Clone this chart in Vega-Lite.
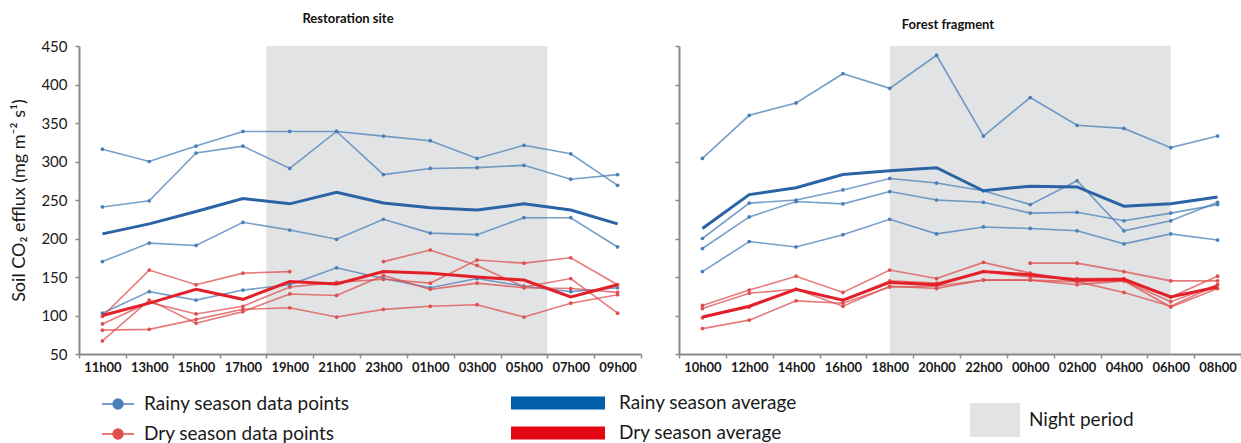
{
"$schema": "https://vega.github.io/schema/vega-lite/v6.json",
"padding": {"left": 10, "top": 13, "right": 0, "bottom": 0},
"background": "white",
"spacing": 32,
"config": {
 "font": "Lato",
 "view": {"stroke": null},
 "axis": {"grid": false, "domainColor": "#8a8a8a", "domainWidth": 2, "tickColor": "#8a8a8a", "tickWidth": 1.5, "tickSize": 4, "labelFont": "Lato", "labelColor": "#1a1a1a", "titleFont": "Lato", "titleColor": "#1a1a1a", "labelOverlap": false},
 "axisX": {"labelFontWeight": "bold", "labelFontSize": 13, "labelAngle": 0, "tickBand": "extent", "labelPadding": 3, "title": null},
 "axisY": {"labelFontSize": 15, "labelPadding": 8, "titleFontSize": 18, "titleFontWeight": "normal", "titlePadding": 12},
 "legend": {"labelLimit": 400},
 "title": {"font": "Lato", "fontSize": 13, "fontWeight": "bold", "color": "#111111"}
},
"datasets": {
 "night": [{"s":"R","a":"19h00","b":"05h00","p":"Night period"},{"s":"F","a":"18h00","b":"06h00","p":"Night period"}],
 "avg": [
  {"s":"R","g":"Rainy season average","t":"11h00","v":206},{"s":"R","g":"Rainy season average","t":"13h00","v":219},{"s":"R","g":"Rainy season average","t":"15h00","v":235},{"s":"R","g":"Rainy season average","t":"17h00","v":252},{"s":"R","g":"Rainy season average","t":"19h00","v":245},{"s":"R","g":"Rainy season average","t":"21h00","v":260},{"s":"R","g":"Rainy season average","t":"23h00","v":246},{"s":"R","g":"Rainy season average","t":"01h00","v":240},{"s":"R","g":"Rainy season average","t":"03h00","v":237},{"s":"R","g":"Rainy season average","t":"05h00","v":245},{"s":"R","g":"Rainy season average","t":"07h00","v":237},{"s":"R","g":"Rainy season average","t":"09h00","v":219},
  {"s":"R","g":"Dry season average","t":"11h00","v":100},{"s":"R","g":"Dry season average","t":"13h00","v":116},{"s":"R","g":"Dry season average","t":"15h00","v":134},{"s":"R","g":"Dry season average","t":"17h00","v":121},{"s":"R","g":"Dry season average","t":"19h00","v":144},{"s":"R","g":"Dry season average","t":"21h00","v":141},{"s":"R","g":"Dry season average","t":"23h00","v":157},{"s":"R","g":"Dry season average","t":"01h00","v":155},{"s":"R","g":"Dry season average","t":"03h00","v":150},{"s":"R","g":"Dry season average","t":"05h00","v":146},{"s":"R","g":"Dry season average","t":"07h00","v":124},{"s":"R","g":"Dry season average","t":"09h00","v":140},
  {"s":"F","g":"Rainy season average","t":"10h00","v":213},{"s":"F","g":"Rainy season average","t":"12h00","v":257},{"s":"F","g":"Rainy season average","t":"14h00","v":266},{"s":"F","g":"Rainy season average","t":"16h00","v":283},{"s":"F","g":"Rainy season average","t":"18h00","v":288},{"s":"F","g":"Rainy season average","t":"20h00","v":292},{"s":"F","g":"Rainy season average","t":"22h00","v":262},{"s":"F","g":"Rainy season average","t":"00h00","v":268},{"s":"F","g":"Rainy season average","t":"02h00","v":267},{"s":"F","g":"Rainy season average","t":"04h00","v":242},{"s":"F","g":"Rainy season average","t":"06h00","v":245},{"s":"F","g":"Rainy season average","t":"08h00","v":254},
  {"s":"F","g":"Dry season average","t":"10h00","v":98},{"s":"F","g":"Dry season average","t":"12h00","v":112},{"s":"F","g":"Dry season average","t":"14h00","v":134},{"s":"F","g":"Dry season average","t":"16h00","v":120},{"s":"F","g":"Dry season average","t":"18h00","v":143},{"s":"F","g":"Dry season average","t":"20h00","v":140},{"s":"F","g":"Dry season average","t":"22h00","v":157},{"s":"F","g":"Dry season average","t":"00h00","v":153},{"s":"F","g":"Dry season average","t":"02h00","v":146},{"s":"F","g":"Dry season average","t":"04h00","v":147},{"s":"F","g":"Dry season average","t":"06h00","v":124},{"s":"F","g":"Dry season average","t":"08h00","v":137}
 ],
 "pts": [
  {"s":"R","k":"Rainy","r":"R1","t":"11h00","v":316},{"s":"R","k":"Rainy","r":"R1","t":"13h00","v":300},{"s":"R","k":"Rainy","r":"R1","t":"15h00","v":320},{"s":"R","k":"Rainy","r":"R1","t":"17h00","v":339},{"s":"R","k":"Rainy","r":"R1","t":"19h00","v":339},{"s":"R","k":"Rainy","r":"R1","t":"21h00","v":339},{"s":"R","k":"Rainy","r":"R1","t":"23h00","v":333},{"s":"R","k":"Rainy","r":"R1","t":"01h00","v":327},{"s":"R","k":"Rainy","r":"R1","t":"03h00","v":304},{"s":"R","k":"Rainy","r":"R1","t":"05h00","v":321},{"s":"R","k":"Rainy","r":"R1","t":"07h00","v":310},{"s":"R","k":"Rainy","r":"R1","t":"09h00","v":269},
  {"s":"R","k":"Rainy","r":"R2","t":"11h00","v":241},{"s":"R","k":"Rainy","r":"R2","t":"13h00","v":249},{"s":"R","k":"Rainy","r":"R2","t":"15h00","v":311},{"s":"R","k":"Rainy","r":"R2","t":"17h00","v":320},{"s":"R","k":"Rainy","r":"R2","t":"19h00","v":291},{"s":"R","k":"Rainy","r":"R2","t":"21h00","v":339},{"s":"R","k":"Rainy","r":"R2","t":"23h00","v":283},{"s":"R","k":"Rainy","r":"R2","t":"01h00","v":291},{"s":"R","k":"Rainy","r":"R2","t":"03h00","v":292},{"s":"R","k":"Rainy","r":"R2","t":"05h00","v":295},{"s":"R","k":"Rainy","r":"R2","t":"07h00","v":277},{"s":"R","k":"Rainy","r":"R2","t":"09h00","v":283},
  {"s":"R","k":"Rainy","r":"R3","t":"11h00","v":170},{"s":"R","k":"Rainy","r":"R3","t":"13h00","v":194},{"s":"R","k":"Rainy","r":"R3","t":"15h00","v":191},{"s":"R","k":"Rainy","r":"R3","t":"17h00","v":221},{"s":"R","k":"Rainy","r":"R3","t":"19h00","v":211},{"s":"R","k":"Rainy","r":"R3","t":"21h00","v":199},{"s":"R","k":"Rainy","r":"R3","t":"23h00","v":225},{"s":"R","k":"Rainy","r":"R3","t":"01h00","v":207},{"s":"R","k":"Rainy","r":"R3","t":"03h00","v":205},{"s":"R","k":"Rainy","r":"R3","t":"05h00","v":227},{"s":"R","k":"Rainy","r":"R3","t":"07h00","v":227},{"s":"R","k":"Rainy","r":"R3","t":"09h00","v":189},
  {"s":"R","k":"Rainy","r":"R4","t":"11h00","v":103},{"s":"R","k":"Rainy","r":"R4","t":"13h00","v":131},{"s":"R","k":"Rainy","r":"R4","t":"15h00","v":120},{"s":"R","k":"Rainy","r":"R4","t":"17h00","v":133},{"s":"R","k":"Rainy","r":"R4","t":"19h00","v":140},{"s":"R","k":"Rainy","r":"R4","t":"21h00","v":162},{"s":"R","k":"Rainy","r":"R4","t":"23h00","v":148},{"s":"R","k":"Rainy","r":"R4","t":"01h00","v":136},{"s":"R","k":"Rainy","r":"R4","t":"03h00","v":148},{"s":"R","k":"Rainy","r":"R4","t":"05h00","v":138},{"s":"R","k":"Rainy","r":"R4","t":"07h00","v":131},{"s":"R","k":"Rainy","r":"R4","t":"09h00","v":136},
  {"s":"R","k":"Dry","r":"D1","t":"11h00","v":99},{"s":"R","k":"Dry","r":"D1","t":"13h00","v":159},{"s":"R","k":"Dry","r":"D1","t":"15h00","v":140},{"s":"R","k":"Dry","r":"D1","t":"17h00","v":155},{"s":"R","k":"Dry","r":"D1","t":"19h00","v":157},
  {"s":"R","k":"Dry","r":"D2","t":"23h00","v":170},{"s":"R","k":"Dry","r":"D2","t":"01h00","v":185},{"s":"R","k":"Dry","r":"D2","t":"03h00","v":165},{"s":"R","k":"Dry","r":"D2","t":"05h00","v":137},{"s":"R","k":"Dry","r":"D2","t":"07h00","v":148},{"s":"R","k":"Dry","r":"D2","t":"09h00","v":103},
  {"s":"R","k":"Dry","r":"D3","t":"11h00","v":89},{"s":"R","k":"Dry","r":"D3","t":"13h00","v":117},{"s":"R","k":"Dry","r":"D3","t":"15h00","v":102},{"s":"R","k":"Dry","r":"D3","t":"17h00","v":112},{"s":"R","k":"Dry","r":"D3","t":"19h00","v":137},{"s":"R","k":"Dry","r":"D3","t":"21h00","v":143},{"s":"R","k":"Dry","r":"D3","t":"23h00","v":147},{"s":"R","k":"Dry","r":"D3","t":"01h00","v":142},{"s":"R","k":"Dry","r":"D3","t":"03h00","v":172},{"s":"R","k":"Dry","r":"D3","t":"05h00","v":168},{"s":"R","k":"Dry","r":"D3","t":"07h00","v":175},{"s":"R","k":"Dry","r":"D3","t":"09h00","v":140},
  {"s":"R","k":"Dry","r":"D4","t":"11h00","v":81},{"s":"R","k":"Dry","r":"D4","t":"13h00","v":82},{"s":"R","k":"Dry","r":"D4","t":"15h00","v":95},{"s":"R","k":"Dry","r":"D4","t":"17h00","v":108},{"s":"R","k":"Dry","r":"D4","t":"19h00","v":110},{"s":"R","k":"Dry","r":"D4","t":"21h00","v":98},{"s":"R","k":"Dry","r":"D4","t":"23h00","v":108},{"s":"R","k":"Dry","r":"D4","t":"01h00","v":112},{"s":"R","k":"Dry","r":"D4","t":"03h00","v":114},{"s":"R","k":"Dry","r":"D4","t":"05h00","v":98},{"s":"R","k":"Dry","r":"D4","t":"07h00","v":116},{"s":"R","k":"Dry","r":"D4","t":"09h00","v":127},
  {"s":"R","k":"Dry","r":"D5","t":"11h00","v":67},{"s":"R","k":"Dry","r":"D5","t":"13h00","v":120},{"s":"R","k":"Dry","r":"D5","t":"15h00","v":90},{"s":"R","k":"Dry","r":"D5","t":"17h00","v":105},{"s":"R","k":"Dry","r":"D5","t":"19h00","v":128},{"s":"R","k":"Dry","r":"D5","t":"21h00","v":126},{"s":"R","k":"Dry","r":"D5","t":"23h00","v":152},{"s":"R","k":"Dry","r":"D5","t":"01h00","v":134},{"s":"R","k":"Dry","r":"D5","t":"03h00","v":142},{"s":"R","k":"Dry","r":"D5","t":"05h00","v":136},{"s":"R","k":"Dry","r":"D5","t":"07h00","v":135},{"s":"R","k":"Dry","r":"D5","t":"09h00","v":130},
  {"s":"F","k":"Rainy","r":"F1","t":"10h00","v":304},{"s":"F","k":"Rainy","r":"F1","t":"12h00","v":360},{"s":"F","k":"Rainy","r":"F1","t":"14h00","v":376},{"s":"F","k":"Rainy","r":"F1","t":"16h00","v":414},{"s":"F","k":"Rainy","r":"F1","t":"18h00","v":395},{"s":"F","k":"Rainy","r":"F1","t":"20h00","v":438},{"s":"F","k":"Rainy","r":"F1","t":"22h00","v":333},{"s":"F","k":"Rainy","r":"F1","t":"00h00","v":383},{"s":"F","k":"Rainy","r":"F1","t":"02h00","v":347},{"s":"F","k":"Rainy","r":"F1","t":"04h00","v":343},{"s":"F","k":"Rainy","r":"F1","t":"06h00","v":318},{"s":"F","k":"Rainy","r":"F1","t":"08h00","v":333},
  {"s":"F","k":"Rainy","r":"F2","t":"10h00","v":200},{"s":"F","k":"Rainy","r":"F2","t":"12h00","v":246},{"s":"F","k":"Rainy","r":"F2","t":"14h00","v":250},{"s":"F","k":"Rainy","r":"F2","t":"16h00","v":263},{"s":"F","k":"Rainy","r":"F2","t":"18h00","v":278},{"s":"F","k":"Rainy","r":"F2","t":"20h00","v":272},{"s":"F","k":"Rainy","r":"F2","t":"22h00","v":262},{"s":"F","k":"Rainy","r":"F2","t":"00h00","v":244},{"s":"F","k":"Rainy","r":"F2","t":"02h00","v":275},{"s":"F","k":"Rainy","r":"F2","t":"04h00","v":210},{"s":"F","k":"Rainy","r":"F2","t":"06h00","v":223},{"s":"F","k":"Rainy","r":"F2","t":"08h00","v":247},
  {"s":"F","k":"Rainy","r":"F3","t":"10h00","v":187},{"s":"F","k":"Rainy","r":"F3","t":"12h00","v":228},{"s":"F","k":"Rainy","r":"F3","t":"14h00","v":248},{"s":"F","k":"Rainy","r":"F3","t":"16h00","v":245},{"s":"F","k":"Rainy","r":"F3","t":"18h00","v":261},{"s":"F","k":"Rainy","r":"F3","t":"20h00","v":250},{"s":"F","k":"Rainy","r":"F3","t":"22h00","v":247},{"s":"F","k":"Rainy","r":"F3","t":"00h00","v":233},{"s":"F","k":"Rainy","r":"F3","t":"02h00","v":234},{"s":"F","k":"Rainy","r":"F3","t":"04h00","v":223},{"s":"F","k":"Rainy","r":"F3","t":"06h00","v":233},{"s":"F","k":"Rainy","r":"F3","t":"08h00","v":244},
  {"s":"F","k":"Rainy","r":"F4","t":"10h00","v":157},{"s":"F","k":"Rainy","r":"F4","t":"12h00","v":196},{"s":"F","k":"Rainy","r":"F4","t":"14h00","v":189},{"s":"F","k":"Rainy","r":"F4","t":"16h00","v":205},{"s":"F","k":"Rainy","r":"F4","t":"18h00","v":225},{"s":"F","k":"Rainy","r":"F4","t":"20h00","v":206},{"s":"F","k":"Rainy","r":"F4","t":"22h00","v":215},{"s":"F","k":"Rainy","r":"F4","t":"00h00","v":213},{"s":"F","k":"Rainy","r":"F4","t":"02h00","v":210},{"s":"F","k":"Rainy","r":"F4","t":"04h00","v":193},{"s":"F","k":"Rainy","r":"F4","t":"06h00","v":206},{"s":"F","k":"Rainy","r":"F4","t":"08h00","v":198},
  {"s":"F","k":"Dry","r":"G1","t":"10h00","v":113},{"s":"F","k":"Dry","r":"G1","t":"12h00","v":133},{"s":"F","k":"Dry","r":"G1","t":"14h00","v":151},{"s":"F","k":"Dry","r":"G1","t":"16h00","v":130},{"s":"F","k":"Dry","r":"G1","t":"18h00","v":159},{"s":"F","k":"Dry","r":"G1","t":"20h00","v":148},{"s":"F","k":"Dry","r":"G1","t":"22h00","v":169},{"s":"F","k":"Dry","r":"G1","t":"00h00","v":155},{"s":"F","k":"Dry","r":"G1","t":"02h00","v":144},{"s":"F","k":"Dry","r":"G1","t":"04h00","v":130},{"s":"F","k":"Dry","r":"G1","t":"06h00","v":112},{"s":"F","k":"Dry","r":"G1","t":"08h00","v":140},
  {"s":"F","k":"Dry","r":"G2","t":"00h00","v":168},{"s":"F","k":"Dry","r":"G2","t":"02h00","v":168},{"s":"F","k":"Dry","r":"G2","t":"04h00","v":157},{"s":"F","k":"Dry","r":"G2","t":"06h00","v":145},{"s":"F","k":"Dry","r":"G2","t":"08h00","v":145},
  {"s":"F","k":"Dry","r":"G3","t":"10h00","v":109},{"s":"F","k":"Dry","r":"G3","t":"12h00","v":129},{"s":"F","k":"Dry","r":"G3","t":"14h00","v":134},{"s":"F","k":"Dry","r":"G3","t":"16h00","v":120},{"s":"F","k":"Dry","r":"G3","t":"18h00","v":145},{"s":"F","k":"Dry","r":"G3","t":"20h00","v":142},{"s":"F","k":"Dry","r":"G3","t":"22h00","v":157},{"s":"F","k":"Dry","r":"G3","t":"00h00","v":150},{"s":"F","k":"Dry","r":"G3","t":"02h00","v":148},{"s":"F","k":"Dry","r":"G3","t":"04h00","v":148},{"s":"F","k":"Dry","r":"G3","t":"06h00","v":124},{"s":"F","k":"Dry","r":"G3","t":"08h00","v":151},
  {"s":"F","k":"Dry","r":"G4","t":"10h00","v":97},{"s":"F","k":"Dry","r":"G4","t":"12h00","v":111},{"s":"F","k":"Dry","r":"G4","t":"14h00","v":134},{"s":"F","k":"Dry","r":"G4","t":"16h00","v":112},{"s":"F","k":"Dry","r":"G4","t":"18h00","v":138},{"s":"F","k":"Dry","r":"G4","t":"20h00","v":135},{"s":"F","k":"Dry","r":"G4","t":"22h00","v":146},{"s":"F","k":"Dry","r":"G4","t":"00h00","v":146},{"s":"F","k":"Dry","r":"G4","t":"02h00","v":140},{"s":"F","k":"Dry","r":"G4","t":"04h00","v":145},{"s":"F","k":"Dry","r":"G4","t":"06h00","v":118},{"s":"F","k":"Dry","r":"G4","t":"08h00","v":140},
  {"s":"F","k":"Dry","r":"G5","t":"10h00","v":83},{"s":"F","k":"Dry","r":"G5","t":"12h00","v":94},{"s":"F","k":"Dry","r":"G5","t":"14h00","v":119},{"s":"F","k":"Dry","r":"G5","t":"16h00","v":116},{"s":"F","k":"Dry","r":"G5","t":"18h00","v":137},{"s":"F","k":"Dry","r":"G5","t":"20h00","v":138},{"s":"F","k":"Dry","r":"G5","t":"22h00","v":146},{"s":"F","k":"Dry","r":"G5","t":"00h00","v":146},{"s":"F","k":"Dry","r":"G5","t":"02h00","v":144},{"s":"F","k":"Dry","r":"G5","t":"04h00","v":145},{"s":"F","k":"Dry","r":"G5","t":"06h00","v":111},{"s":"F","k":"Dry","r":"G5","t":"08h00","v":135}
 ]
},
"hconcat": [
 {
  "width": 562, "height": 308,
  "title": {"text": "Restoration site", "anchor": "middle", "frame": "group", "dx": -12, "offset": 13},
  "layer": [
   {"data": {"name": "night"}, "transform": [{"filter": "datum.s === 'R'"}],
    "mark": {"type": "rect"},
    "encoding": {
     "x": {"field": "a", "type": "ordinal", "bandPosition": 0, "scale": {"type": "band", "domain": ["11h00","13h00","15h00","17h00","19h00","21h00","23h00","01h00","03h00","05h00","07h00","09h00"], "paddingInner": 0, "paddingOuter": 0}},
     "x2": {"field": "b", "bandPosition": 1},
     "y": {"datum": 450, "type": "quantitative", "scale": {"domain": [50, 450], "nice": false, "zero": false}, "axis": {"values": [50,100,150,200,250,300,350,400,450], "labelOverlap": false, "title": "Soil CO₂ efflux (mg m⁻² s¹)"}},
     "y2": {"datum": 50},
     "fill": {"field": "p", "type": "nominal", "scale": {"domain": ["Night period"], "range": ["#e2e3e4"]},
      "legend": {"orient": "none", "legendX": 906.5, "legendY": 364.5, "title": null, "symbolType": "M-5,-3.4H5V3.4H-5Z", "symbolSize": 100, "symbolStrokeWidth": 0, "labelFontSize": 19, "labelFont": "Lato", "labelColor": "#1a1a1a", "labelOffset": 24.5}}
    }},
   {"data": {"name": "pts"}, "transform": [{"filter": "datum.s === 'R'"}],
    "mark": {"type": "line", "strokeWidth": 1.6, "opacity": 0.75, "point": {"size": 14, "filled": true}},
    "encoding": {
     "x": {"field": "t", "type": "ordinal", "bandPosition": 0.5, "scale": {"type": "band", "domain": ["11h00","13h00","15h00","17h00","19h00","21h00","23h00","01h00","03h00","05h00","07h00","09h00"], "paddingInner": 0, "paddingOuter": 0}},
     "y": {"field": "v", "type": "quantitative", "axis": {"values": [50,100,150,200,250,300,350,400,450], "labelOverlap": false, "title": "Soil CO₂ efflux (mg m⁻² s¹)"}},
     "color": {"field": "k", "type": "nominal", "scale": {"domain": ["Rainy", "Dry"], "range": ["#4a7fb8", "#de4f4f"]},
      "legend": {"orient": "none", "legendX": 29.5, "legendY": 348.5, "title": null, "symbolType": "M-3.2,0H-1M1,0H3.2M1,0A1,1,0,1,1,-1,0A1,1,0,1,1,1,0Z", "symbolSize": 100, "symbolStrokeWidth": 1.3, "symbolOpacity": 1, "labelFontSize": 19, "labelFont": "Lato", "labelColor": "#1a1a1a", "labelOffset": 16.5, "rowPadding": 10, "labelExpr": "datum.label + ' season data points'",
       "encode": {"symbols": {"update": {"fill": {"signal": "datum.value === 'Dry' ? '#e30613' : '#ffffff'"}, "stroke": {"signal": "datum.value === 'Dry' ? '#e30613' : '#2e75b6'"}, "opacity": {"value": 1}}}}}},
     "detail": {"field": "r", "type": "nominal"}
    }},
   {"data": {"name": "avg"}, "transform": [{"filter": "datum.s === 'R'"}],
    "mark": {"type": "line", "strokeWidth": 3},
    "encoding": {
     "x": {"field": "t", "type": "ordinal", "bandPosition": 0.5, "scale": {"type": "band", "domain": ["11h00","13h00","15h00","17h00","19h00","21h00","23h00","01h00","03h00","05h00","07h00","09h00"], "paddingInner": 0, "paddingOuter": 0}},
     "y": {"field": "v", "type": "quantitative", "axis": {"values": [50,100,150,200,250,300,350,400,450], "labelOverlap": false, "title": "Soil CO₂ efflux (mg m⁻² s¹)"}},
     "stroke": {"field": "g", "type": "nominal", "scale": {"domain": ["Rainy season average", "Dry season average"], "range": ["#2a63a6", "#e3202a"]},
      "legend": {"orient": "none", "legendX": 469.5, "legendY": 347.5, "title": null, "symbolType": "M-9.4,-1.3H9.4V1.3H-9.4Z", "symbolSize": 100, "symbolStrokeWidth": 0, "labelFontSize": 19, "labelFont": "Lato", "labelColor": "#1a1a1a", "labelOffset": 51.5, "rowPadding": 10,
       "encode": {"symbols": {"update": {"fill": {"signal": "datum.value === 'Dry season average' ? '#e30613' : '#005fa8'"}, "opacity": {"value": 1}}}}}}
    }}
  ]
 },
 {
  "width": 562, "height": 308,
  "title": {"text": "Forest fragment", "anchor": "middle", "frame": "group", "dx": -12, "offset": 13},
  "layer": [
   {"data": {"name": "night"}, "transform": [{"filter": "datum.s === 'F'"}],
    "mark": {"type": "rect"},
    "encoding": {
     "x": {"field": "a", "type": "ordinal", "bandPosition": 0.5, "scale": {"type": "band", "domain": ["10h00","12h00","14h00","16h00","18h00","20h00","22h00","00h00","02h00","04h00","06h00","08h00"], "paddingInner": 0, "paddingOuter": 0}},
     "x2": {"field": "b", "bandPosition": 0.5},
     "y": {"datum": 450, "type": "quantitative", "scale": {"domain": [50, 450], "nice": false, "zero": false}, "axis": {"values": [50,100,150,200,250,300,350,400,450], "labels": false, "title": null}},
     "y2": {"datum": 50},
     "fill": {"field": "p", "type": "nominal"}
    }},
   {"data": {"name": "pts"}, "transform": [{"filter": "datum.s === 'F'"}],
    "mark": {"type": "line", "strokeWidth": 1.6, "opacity": 0.75, "point": {"size": 14, "filled": true}},
    "encoding": {
     "x": {"field": "t", "type": "ordinal", "bandPosition": 0.5, "scale": {"type": "band", "domain": ["10h00","12h00","14h00","16h00","18h00","20h00","22h00","00h00","02h00","04h00","06h00","08h00"], "paddingInner": 0, "paddingOuter": 0}},
     "y": {"field": "v", "type": "quantitative", "axis": {"values": [50,100,150,200,250,300,350,400,450], "labels": false, "title": null}},
     "color": {"field": "k", "type": "nominal"},
     "detail": {"field": "r", "type": "nominal"}
    }},
   {"data": {"name": "avg"}, "transform": [{"filter": "datum.s === 'F'"}],
    "mark": {"type": "line", "strokeWidth": 3},
    "encoding": {
     "x": {"field": "t", "type": "ordinal", "bandPosition": 0.5, "scale": {"type": "band", "domain": ["10h00","12h00","14h00","16h00","18h00","20h00","22h00","00h00","02h00","04h00","06h00","08h00"], "paddingInner": 0, "paddingOuter": 0}},
     "y": {"field": "v", "type": "quantitative", "axis": {"values": [50,100,150,200,250,300,350,400,450], "labels": false, "title": null}},
     "stroke": {"field": "g", "type": "nominal"}
    }}
  ]
 }
]
}
